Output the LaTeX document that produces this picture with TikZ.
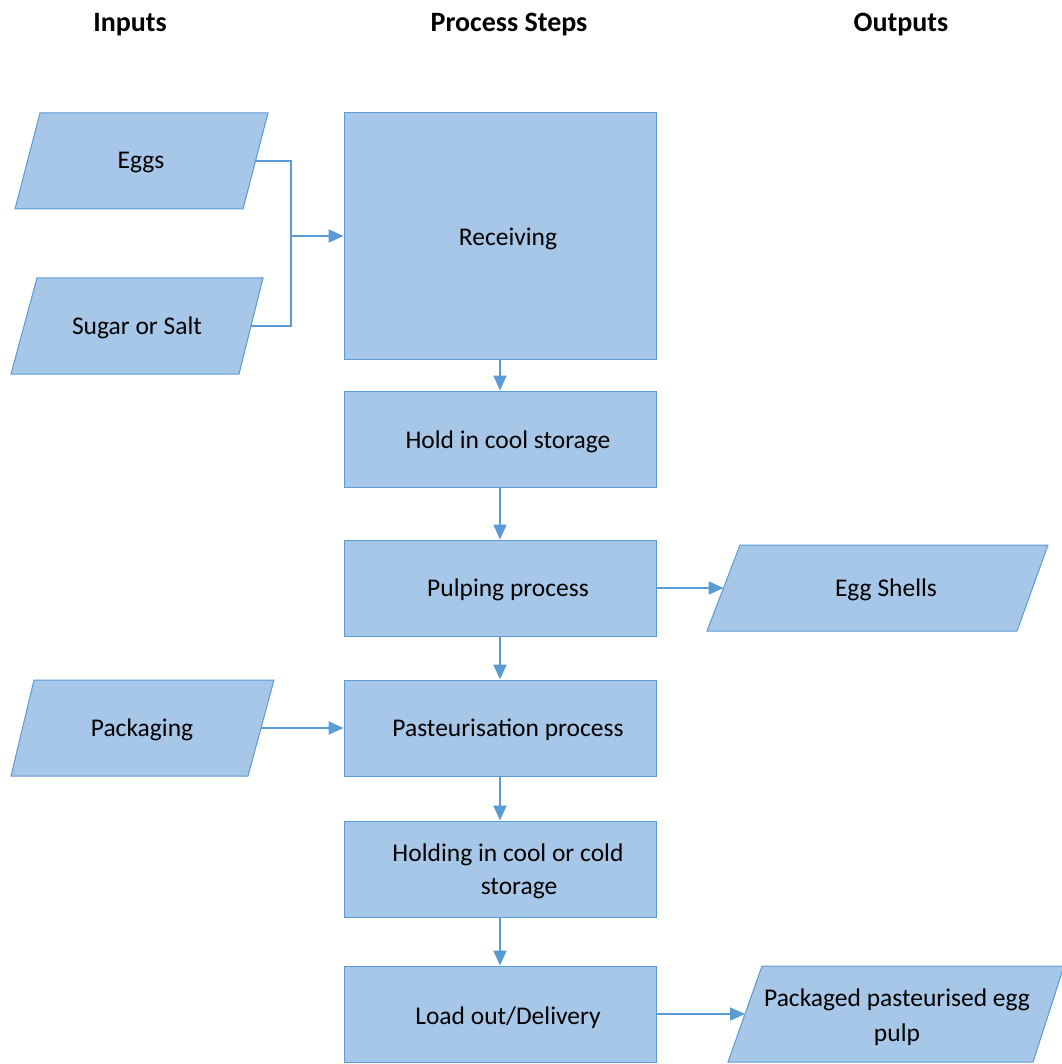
\documentclass[tikz,border=0pt]{standalone}
\usepackage{fontspec}
\setmainfont{Carlito}
\usetikzlibrary{arrows.meta}
\definecolor{fillc}{HTML}{A6C7E8}
\definecolor{edgec}{HTML}{5B9BD5}
\definecolor{arrc}{HTML}{5B9BD5}
\tikzset{
  stepbox/.style={draw=edgec, fill=fillc, line width=1pt, rectangle, inner sep=0pt, minimum width=312pt},
  para/.style={draw=edgec, fill=fillc, line width=1pt, line join=miter},
  txt/.style={font=\fontsize{25.5}{34}\selectfont, align=center, inner sep=0pt, yshift=-2pt},
  hdr/.style={font=\fontsize{28}{32}\selectfont\bfseries, inner sep=0pt, yshift=-3pt},
  conn/.style={draw=arrc, line width=2pt, -{Triangle[length=15pt,width=13pt]}},
  plain/.style={draw=arrc, line width=2pt}
}
% #1 name, #2 tl x, #3 top y, #4 tr x, #5 br x, #6 bottom y, #7 bl x
\newcommand\parabox[7]{%
  \path[para] (#2,#3) coordinate (#1-tl) -- (#4,#3) -- coordinate[pos=.5] (#1-e) (#5,#6) -- (#7,#6) -- coordinate[pos=.5] (#1-w) (#2,#3) -- cycle;
}
\begin{document}
\begin{tikzpicture}[x=1pt,y=-1pt]
\useasboundingbox (0,0) rectangle (1061,1064);

% headers
\node[hdr] (hin) at (130,22) {Inputs};
\node[hdr] (hproc) at (509,22) {Process Steps};
\node[hdr] (hout) at (901,22) {Outputs};

% process boxes
\node[stepbox, minimum height=246pt] (recv) at (500,236) {};
\node[stepbox, minimum height=96pt] (hold) at (500,439) {};
\node[stepbox, minimum height=96pt] (pulp) at (500,588) {};
\node[stepbox, minimum height=96pt] (past) at (500,728) {};
\node[stepbox, minimum height=96pt] (cold) at (500,869) {};
\node[stepbox, minimum height=96pt] (load) at (500,1014) {};

\node[txt] (trecv) at (508,237) {Receiving};
\node[txt] (thold) at (508,440) {Hold in cool storage};
\node[txt] (tpulp) at (508,588) {Pulping process};
\node[txt] (tpast) at (508,728) {Pasteurisation process};
\node[txt] (tcold1) at (508,853) {Holding in cool or cold};
\node[txt] (tcold2) at (519,887) {storage};
\node[txt] (tload) at (508,1016) {Load out/Delivery};

% parallelograms
\parabox{eggs}{40}{113}{268}{243}{209}{15}
\parabox{sugar}{37}{278}{263}{239}{374}{11}
\parabox{pack}{34}{680}{274}{248}{776}{11}
\parabox{shell}{740}{545}{1048}{1017}{631}{707}
\parabox{prod}{762}{966}{1064}{1033}{1062}{728}

\node[txt] (teggs) at (141,161) {Eggs};
\node[txt] (tsugar) at (137,326) {Sugar or Salt};
\node[txt] (tpack) at (142,728) {Packaging};
\node[txt] (tshell) at (886,588) {Egg Shells};
\node[txt] (tprod1) at (897,998) {Packaged pasteurised egg};
\node[txt] (tprod2) at (897,1033) {pulp};

% connectors
\coordinate (jn) at (291,236);
\draw[plain] (eggs-e) -| (jn);
\draw[plain] (sugar-e) -| (jn);
\draw[conn] (jn) -- (recv.west);

\draw[conn] (recv.south) -- (hold.north);
\draw[conn] (hold.south) -- (pulp.north);
\draw[conn] (pulp.south) -- (past.north);
\draw[conn] (past.south) -- (cold.north);
\draw[conn] (cold.south) -- (load.north);

\draw[conn] (pulp.east) -- (shell-w);
\draw[conn] (pack-e) -- (past.west);
\draw[conn] (load.east) -- (prod-w);
\end{tikzpicture}
\end{document}
